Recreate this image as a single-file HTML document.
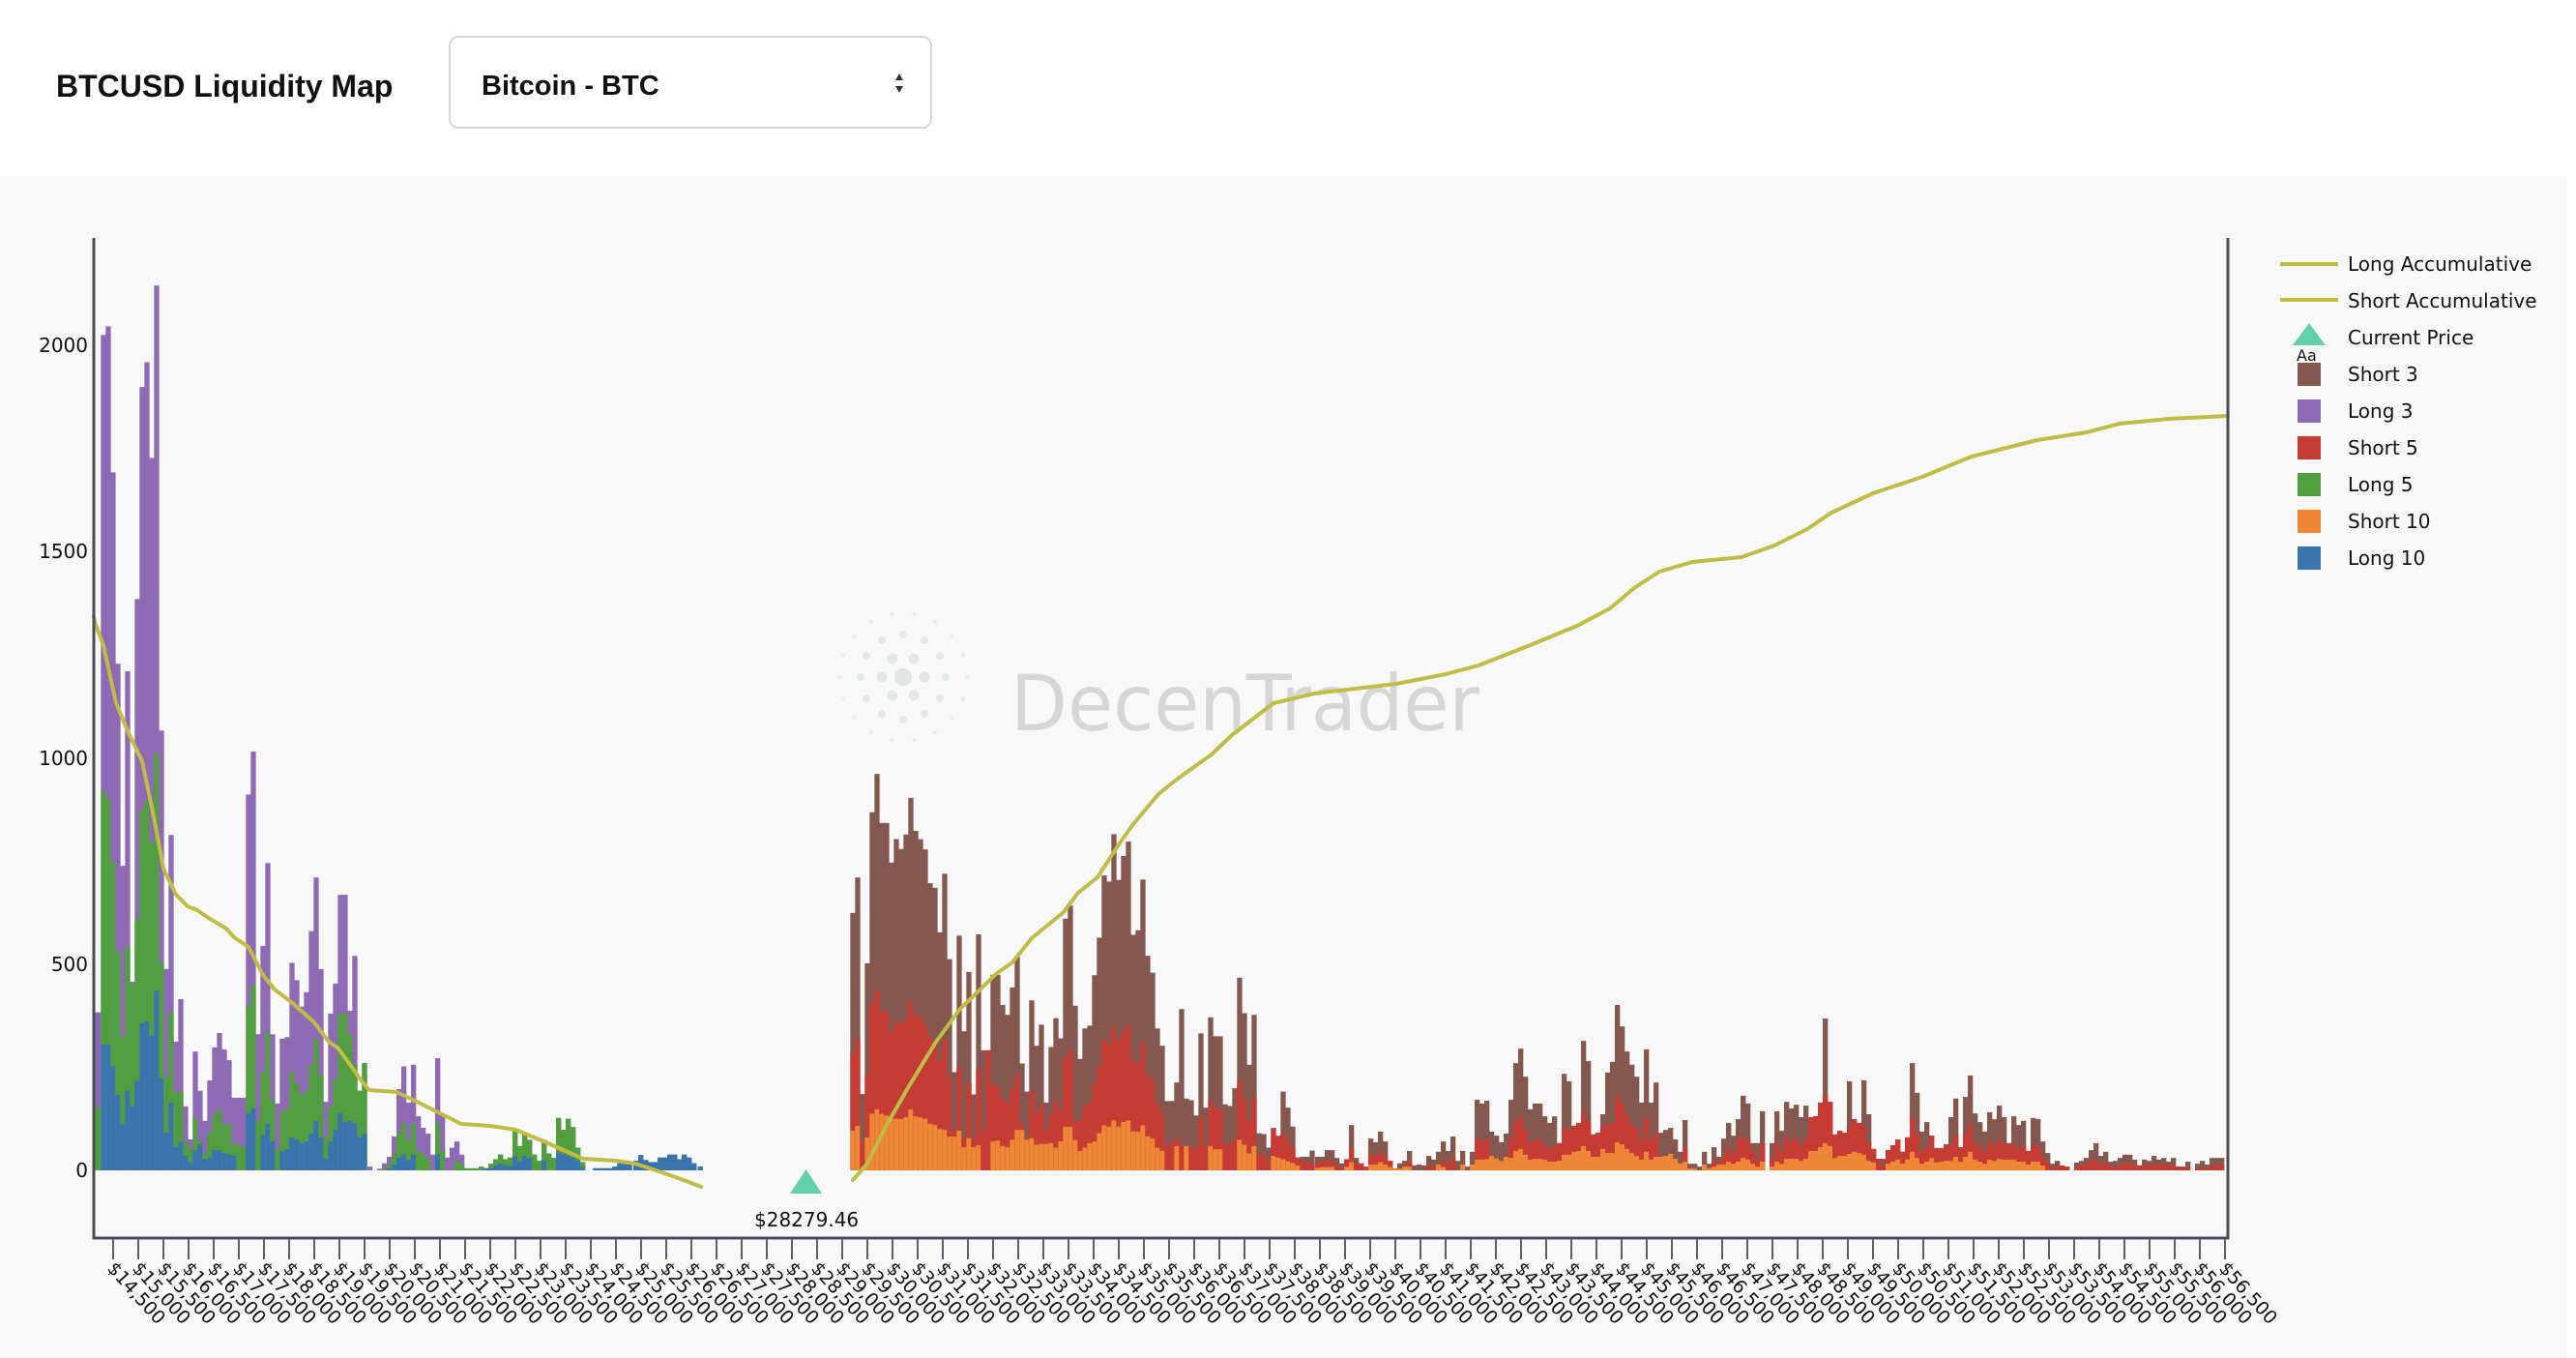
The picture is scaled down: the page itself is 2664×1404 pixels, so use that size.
<!DOCTYPE html>
<html><head><meta charset="utf-8">
<style>
html,body{margin:0;padding:0;background:#fff;width:2664px;height:1404px;overflow:hidden}
svg{display:block}
</style></head>
<body>
<svg id="s" width="2664" height="1404" xmlns="http://www.w3.org/2000/svg" font-family="'DejaVu Sans', 'Liberation Sans', sans-serif">
<rect x="0" y="0" width="2664" height="1404" fill="#ffffff"/>
<rect x="0" y="182" width="2655" height="1222" fill="#f8f8f8"/>
<text x="58" y="100" font-family="'Liberation Sans', sans-serif" font-weight="bold" font-size="32" fill="#111">BTCUSD Liquidity Map</text>
<rect x="465" y="38" width="498" height="94" rx="9" fill="#fff" stroke="#d6d6d6" stroke-width="2"/>
<text x="498" y="98" font-family="'Liberation Sans', sans-serif" font-weight="bold" font-size="29" fill="#111">Bitcoin - BTC</text>
<polygon points="926,83 934,83 930,76" fill="#333"/>
<polygon points="926,89 934,89 930,96" fill="#333"/>
<g id="wm" fill="#dfe5e2"></g>
<text x="1045" y="755" font-family="'DejaVu Sans', sans-serif" font-size="80" fill="#d3d3d3" opacity="0.9" textLength="485" lengthAdjust="spacingAndGlyphs">DecenTrader</text>
<g id="bars"></g>
<g id="lines" fill="none" stroke="#bfbd45" stroke-width="4" stroke-linejoin="round" stroke-linecap="round"></g>
<g id="axes" stroke="#474c58" stroke-width="3" fill="none">
<line x1="97" y1="246" x2="97" y2="1281"/>
<line x1="2304" y1="246" x2="2304" y2="1281"/>
<line x1="96" y1="1280" x2="2305" y2="1280"/>
</g>
<g id="xt"></g>
<g font-size="20" fill="#111" text-anchor="end">
<text x="91" y="1217">0</text>
<text x="91" y="1004">500</text>
<text x="91" y="791">1000</text>
<text x="91" y="577">1500</text>
<text x="91" y="364">2000</text>
</g>
<polygon points="817,1234 850,1234 833.5,1209" fill="#62d0a8"/>
<text x="780" y="1268" font-size="20" fill="#111">$28279.46</text>
<g font-size="20" fill="#111">
<line x1="2358" y1="273" x2="2418" y2="273" stroke="#bfbd45" stroke-width="4"/>
<text x="2428" y="280">Long Accumulative</text>
<line x1="2358" y1="310" x2="2418" y2="310" stroke="#bfbd45" stroke-width="4"/>
<text x="2428" y="318">Short Accumulative</text>
<polygon points="2371,357 2405,357 2388,334" fill="#62d0a8"/>
<text x="2428" y="356">Current Price</text>
<text x="2375" y="373" font-size="16">Aa</text>
<rect x="2376" y="375" width="24" height="24" fill="#84574f"/><text x="2428" y="394">Short 3</text>
<rect x="2376" y="413" width="24" height="24" fill="#8e6ab5"/><text x="2428" y="432">Long 3</text>
<rect x="2376" y="451" width="24" height="24" fill="#c63c34"/><text x="2428" y="470">Short 5</text>
<rect x="2376" y="489" width="24" height="24" fill="#509e3e"/><text x="2428" y="508">Long 5</text>
<rect x="2376" y="527" width="24" height="24" fill="#ef8636"/><text x="2428" y="546">Short 10</text>
<rect x="2376" y="565" width="24" height="24" fill="#3a74ae"/><text x="2428" y="584">Long 10</text>
</g>
</svg>
<script>
var NS="http://www.w3.org/2000/svg";
function el(p,t,a){var e=document.createElementNS(NS,t);for(var k in a)e.setAttribute(k,a[k]);p.appendChild(e);return e;}
var bars=document.getElementById('bars');
var K=0.4265,Z=1210;
function stack(x,w,vals,cols){
  for(var i=0;i<vals.length;i++){var v=vals[i];if(v<=0)continue;
    el(bars,'rect',{x:x.toFixed(2),y:(Z-v*K).toFixed(2),width:w,height:(v*K).toFixed(2),fill:cols[i]});}
}
var LC=['#8e6ab5','#509e3e','#3a74ae'],SC=['#84574f','#c63c34','#ef8636'];
var L1=[[383,154,0],[2025,921,305],[2046,900,305],[1692,748,253],[1228,530,183],[738,323,112],[1210,541,193],[457,453,155],[1385,608,218],[1899,875,356],[1959,897,361],[1727,795,326],[2145,1010,436],[1066,503,222],[488,225,91],[813,384,165],[312,190,56],[415,190,70],[155,70,35],[75,52,21],[288,127,49],[193,70,63],[120,42,28],[218,91,31],[298,134,49],[333,148,49],[293,112,42],[267,112,39],[176,63,35],[176,63,0],[176,56,0],[911,398,138],[1015,450,150],[330,120,0],[544,239,84],[745,333,112],[330,169,70],[162,52,0],[319,141,46],[323,150,52],[503,239,80],[461,211,75],[397,183,66],[432,193,70],[580,256,89],[710,319,120],[488,232,80],[166,80,28],[380,155,70],[453,221,98],[668,380,138],[668,380,117],[387,330,120],[520,256,115],[193,193,80],[260,260,89]];
stack(97.5,6.9,L1[0],LC);
for(var i=1;i<L1.length;i++)stack(97+7.33+5*(i-1),5.3,L1[i],LC);
var L2=[[0,9,0,0],[30,4,0,0],[45,17,4,0],[60,33,14,4],[75,82,38,14],[90,197,88,31],[105,252,115,39],[120,164,72,25],[135,256,112,38],[150,131,47,0],[165,103,39,0],[180,89,29,0],[195,38,0,0],[210,272,115,39],[225,138,47,0],[240,31,0,0],[255,55,0,0],[270,70,23,0],[285,38,14,0],[300,5,5,0],[315,5,5,0],[330,5,5,0],[345,9,9,0],[360,5,5,5],[375,16,16,5],[390,27,27,12],[405,38,38,17],[420,27,27,12],[435,31,31,10],[450,98,98,35],[465,59,59,22],[480,91,91,35],[495,74,74,29],[510,38,38,0],[525,23,23,0],[540,74,74,25],[555,41,41,0],[570,30,30,0],[585,127,127,43],[600,98,98,39],[615,125,125,35],[630,105,105,31],[645,55,55,23],[660,20,20,8]];
var bl=[[700,5],[715,5],[730,5],[745,5],[760,9],[775,17],[790,17],[805,17],[825,23],[840,37],[855,25],[870,20],[885,20],[900,31],[915,31],[930,38],[945,38],[960,27],[975,38],[990,31],[1005,17],[1025,9]];
bl.forEach(function(b){L2.push([b[0],b[1],b[1],b[1]]);});
L2.forEach(function(d){stack(380+d[0]/3,5.3,[d[1],d[2],d[3]],LC);});
function seq(list,x0,zx0){list.forEach(function(d,i){stack(x0+(zx0+15*i)/3,5.3,d,SC);});}
var Z10=[[624,283,96],[710,320,108],[185,70,0],[502,234,80],[868,404,137],[961,438,148],[842,387,137],[842,383,133],[746,336,125],[803,360,125],[779,354,125],[814,366,129],[903,410,148],[823,377,131],[803,371,129],[778,352,125],[696,322,113],[685,312,110],[577,264,100],[719,319,98],[512,225,82],[238,96,82],[569,252,96],[337,78,56],[481,211,78],[184,78,56],[572,244,61],[291,96,0],[291,291,0],[474,207,70],[474,203,72],[401,172,59],[377,164,56],[443,197,74],[520,231,98],[259,113,98],[191,74,74],[412,189,78],[302,142,62],[353,161,64],[164,98,64],[299,137,66],[369,170,55],[320,145,70],[610,274,106],[642,291,106],[399,121,74],[270,121,47],[344,156,55],[351,164,66],[473,211,70],[564,254,90],[715,317,109],[700,306,106],[815,345,121],[704,316,106],[762,337,117],[797,353,121],[571,266,94],[582,262,94],[705,310,109],[520,231,82],[479,219,77],[344,161,55],[302,137,47],[168,59,0],[168,70,0],[213,76,59],[391,61,0],[174,59,59],[170,59,0],[133,51,0],[332,129,0],[152,59,0],[371,170,59],[325,151,51],[325,150,51],[160,63,0],[156,63,0],[199,74,0],[467,215,74],[381,174,62],[256,121,41],[377,176,59],[90,39,0],[88,39,0],[55,27,0],[103,102,35],[84,82,31],[191,90,27],[152,74,22],[106,55,17],[31,31,12],[33,23,0],[33,20,0],[48,16,0]];
seq(Z10,870,28);
var Z11=[[33,16,6],[33,23,8],[49,23,8],[49,23,8],[30,12,0],[17,8,0],[27,27,9],[110,55,20],[30,17,0],[17,17,0],[9,9,0],[77,39,14],[68,33,14],[94,45,20],[70,33,14],[23,23,8],[5,4,4],[17,4,4],[23,9,9],[47,22,9],[12,0,0],[14,0,0],[12,0,0],[35,12,0],[26,8,0],[45,14,14],[70,23,8],[47,14,0],[82,29,0],[23,0,0],[47,16,14],[9,0,0],[45,14,14],[171,76,26],[162,70,26],[169,76,27],[94,35,35],[84,29,29],[68,23,23],[89,33,33],[171,78,30],[260,117,47],[295,131,52],[227,101,38],[148,68,26],[162,73,28],[162,73,28],[131,61,26],[115,53,21],[131,56,21],[66,66,23],[234,103,38],[216,96,38],[108,108,45],[115,115,47],[314,143,59],[265,120,47],[87,87,33],[91,91,33],[136,108,52],[237,110,42],[263,115,42],[401,181,68],[349,162,63],[288,134,52],[256,113,42],[227,101,35],[164,73,26],[293,129,45],[164,73,26],[213,91,33],[91,35,33],[98,35,35],[103,40,40],[75,28,28],[45,17,17],[122,54,21],[16,5,5],[16,5,5],[9,0,0],[45,14,14],[16,5,5],[56,23,9],[33,17,14],[77,35,14],[115,54,21],[84,40,16],[124,73,21],[181,82,30],[162,73,26],[66,49,16],[66,26,9],[143,66,21]];
seq(Z11,1360,0);
var Z12=[[66,28,9],[143,66,21],[96,47,16],[166,80,28],[150,73,28],[159,77,28],[129,61,23],[157,77,28],[129,129,47],[131,131,47],[164,164,56],[368,183,66],[166,166,59],[87,87,30],[96,96,35],[91,91,35],[216,106,40],[124,124,45],[115,115,42],[218,108,38],[136,66,23],[52,52,19],[28,28,0],[28,12,0],[49,49,16],[61,61,21],[75,75,26],[45,45,16],[80,80,26],[260,129,45],[188,91,30],[94,45,16],[117,56,21],[84,84,30],[54,54,19],[54,54,21],[63,63,23],[129,63,23],[174,84,33],[56,56,21],[178,87,33],[230,113,45],[138,66,26],[117,56,21],[94,45,16],[141,68,26],[124,59,23],[157,75,28],[129,63,26],[66,66,26],[131,63,26],[110,54,21],[120,59,21],[47,47,14],[127,61,21],[124,59,21],[70,35,12],[42,19,0],[16,5,0],[23,12,0],[12,9,0],[9,9,0],[0,0,0],[19,9,0],[23,12,0],[30,12,0],[49,26,0],[66,26,0],[35,14,0],[45,19,0],[21,9,0],[23,9,0],[30,12,0],[38,16,0],[38,16,0],[26,12,0],[12,12,0],[26,12,0],[23,12,0],[35,14,0],[26,14,0],[30,14,0],[21,12,0],[30,12,0],[9,9,0],[9,9,0],[21,8,0],[0,0,0],[16,5,0],[23,5,0],[14,5,0],[30,12,0],[30,12,0],[30,12,0]];
seq(Z12,1830,0);
var lines=document.getElementById('lines');
var LL=[[97,637],[99,646],[107,667],[120,727],[134,760],[147,787],[159,844],[169,898],[182,925],[194,937],[204,941],[214,948],[234,960],[242,969],[257,979],[272,1008],[284,1023],[300,1035],[324,1056],[340,1077],[350,1084],[375,1119],[382,1127],[410,1129],[427,1137],[453,1150],[477,1162],[507,1164],[533,1168],[560,1179],[603,1198],[637,1200],[657,1203],[690,1214],[707,1220],[725,1227]];
var SL=[[882,1220],[897,1203],[917,1163],[940,1123],[968,1077],[993,1043],[1030,1007],[1047,995],[1067,970],[1100,943],[1115,923],[1135,907],[1157,873],[1172,852],[1198,821],[1218,805],[1253,780],[1274,760],[1317,727],[1359,717],[1444,707],[1495,697],[1529,688],[1580,668],[1631,647],[1665,629],[1690,608],[1716,591],[1750,581],[1801,576],[1835,564],[1869,547],[1894,530],[1937,510],[1988,493],[2039,472],[2107,455],[2158,447],[2192,438],[2243,433],[2304,430]];
function pl(a){el(lines,'polyline',{points:a.map(function(p){return p.join(',')}).join(' ')});}
pl(LL);pl(SL);
var xt=document.getElementById('xt');
for(var i=0;i<=84;i++){var x=117+i*26.0;var v=14500+500*i;
 el(xt,'line',{x1:x,y1:1281,x2:x,y2:1302,stroke:'#5a5f6a','stroke-width':2});
 var s='$'+Math.floor(v/1000)+','+(v%1000===0?'000':'500');
 var t=el(xt,'text',{x:0,y:0,'font-size':19,fill:'#111',transform:'translate('+(x-7)+',1312) rotate(48)'});t.textContent=s;}
var wm=document.getElementById('wm');
var cx=934,cy=700;
el(wm,'circle',{cx:cx,cy:cy,r:9});
for(var r=1;r<=3;r++){var n=6*r;for(var k=0;k<n;k++){var a=k/n*Math.PI*2;var rr=r*22;
 el(wm,'circle',{cx:cx+rr*Math.cos(a),cy:cy+rr*Math.sin(a),r:Math.max(2,7-r*1.6),opacity:(r==3?0.6:0.9)});}}
</script>
</body></html>
